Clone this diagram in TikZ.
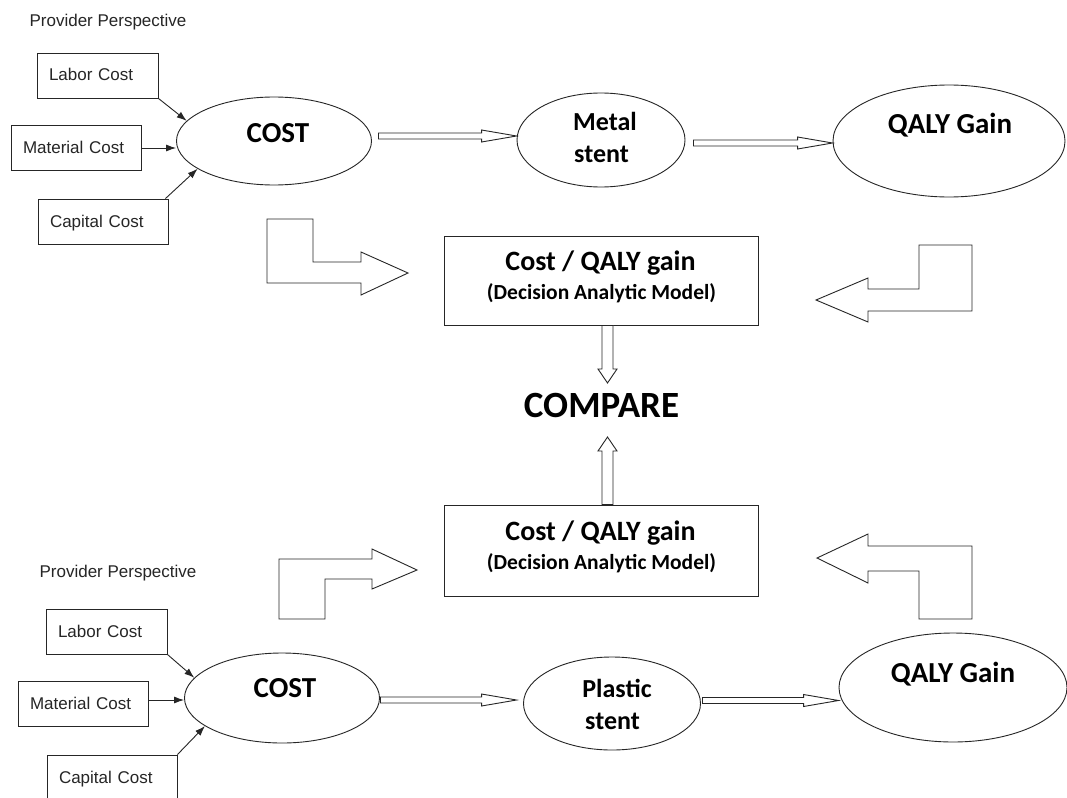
\documentclass[tikz,border=0pt]{standalone}
\usepackage{fontspec}
\setmainfont{Liberation Sans}
\newfontfamily\calib{Carlito}
\usetikzlibrary{shapes.geometric,calc,arrows.meta}

\begin{document}
\begin{tikzpicture}[x=1pt,y=-1pt,
  ln/.style={draw=black!85,line width=0.9pt},
  small/.style={text=black!85,font=\fontsize{17}{19}\selectfont},
  costbox/.style={ln,rectangle,small,inner xsep=12pt,inner ysep=0pt,
    minimum height=45pt,align=left,text height=11.5pt,text depth=0.5pt},
  oval/.style={ln,ellipse,inner sep=0pt},
  modelbox/.style={ln,rectangle,inner sep=0pt,minimum width=314pt},
  bigtxt/.style={anchor=base,inner sep=0pt,font=\calib\bfseries\fontsize{29}{31}\selectfont},
  stenttxt/.style={anchor=base,inner sep=0pt,font=\calib\bfseries\fontsize{26}{28}\selectfont},
  headtxt/.style={anchor=base,inner sep=0pt,font=\calib\bfseries\fontsize{28}{30}\selectfont},
  subtxt/.style={anchor=base,inner sep=0pt,font=\calib\bfseries\fontsize{21.5}{23}\selectfont},
  persp/.style={anchor=base,inner sep=0pt,small},
  feed/.style={ln,-{Latex[length=10pt,width=7pt]}},
  bent/.style={ln,fill=white,line join=miter},
  hblock/.style={ln,fill=white,to path={let \p1=(\tikztostart), \p2=(\tikztotarget) in
    (\x1,\y1+3pt) -- (\x2-35pt,\y1+3pt) -- (\x2-35pt,\y1+6pt) -- (\x2,\y1)
    -- (\x2-35pt,\y1-6pt) -- (\x2-35pt,\y1-3pt) -- (\x1,\y1-3pt) -- cycle}},
  downblock/.style={ln,fill=white,to path={let \p1=(\tikztostart), \p2=(\tikztotarget) in
    (\x1-5.5pt,\y1) -- (\x1-5.5pt,\y2+14pt) -- (\x1-9.5pt,\y2+14pt) -- (\x1,\y2)
    -- (\x1+9.5pt,\y2+14pt) -- (\x1+5.5pt,\y2+14pt) -- (\x1+5.5pt,\y1) -- cycle}},
  upblock/.style={ln,fill=white,to path={let \p1=(\tikztostart), \p2=(\tikztotarget) in
    (\x1-5.5pt,\y1) -- (\x1-5.5pt,\y2-14pt) -- (\x1-9.5pt,\y2-14pt) -- (\x1,\y2)
    -- (\x1+9.5pt,\y2-14pt) -- (\x1+5.5pt,\y2-14pt) -- (\x1+5.5pt,\y1) -- cycle}}
]
\useasboundingbox (0,0) rectangle (1067,797);
\clip (0,0) rectangle (1067,797);
\fill[white] (0,0) rectangle (1067,797);

% ---------- metal stent branch ----------
\node[persp] (pp1) at (108,27) {Provider Perspective};
\node[costbox,text width=97pt] (labor1) at (97.5,75.5) {Labor Cost};
\node[costbox,text width=106pt] (material1) at (76,148) {Material Cost};
\node[costbox,text width=106pt] (capital1) at (103,221.5) {Capital Cost};

\node[oval,minimum width=195pt,minimum height=88pt] (cost1) at (274,141) {};
\node[bigtxt] (cost1t) at (278,142) {COST};
\node[oval,minimum width=168pt,minimum height=94pt] (metal) at (601,140) {};
\node[stenttxt] (metalA) at (605,130) {Metal};
\node[stenttxt] (metalB) at (601.5,162) {stent};
\node[oval,minimum width=232pt,minimum height=112pt] (qaly1) at (949,141) {};
\node[bigtxt] (qaly1t) at (950,133) {QALY Gain};

\draw[feed] (labor1.south east) -- (cost1.167);
\draw[feed] (material1.east) -- (material1.east -| cost1.west);
\draw[feed] ([xshift=-3pt]capital1.north east) -- (cost1.200);

\draw[hblock] ([xshift=6.5pt,yshift=5pt]cost1.east) to (metal.west);
\draw[hblock] ([xshift=8pt,yshift=-3pt]metal.east) to (qaly1.west);

\node[modelbox,minimum height=89pt] (model1) at (601,280.5) {};
\node[headtxt] (model1a) at (600.5,270) {Cost / QALY gain};
\node[subtxt] (model1b) at (601.5,299) {(Decision Analytic Model)};

% bent block arrows feeding the upper model
\draw[bent] (267,219) -- (313,219) -- (313,262) -- (361,262) -- (361,252) -- (408,273)
  -- (361,295) -- (361,283) -- (267,283) -- cycle;
\draw[bent] (972,245) -- (919,245) -- (919,289) -- (868,289) -- (868,278) -- (816,300)
  -- (868,322) -- (868,311) -- (972,311) -- cycle;

% ---------- comparison ----------
\node[anchor=base,inner sep=0pt,font=\calib\bfseries\fontsize{37}{39}\selectfont] (compare) at (601.5,417) {COMPARE};
\coordinate (downtip) at (607.5,383);
\coordinate (uptip) at (607.5,437);
\draw[downblock] ([xshift=6.5pt]model1.south) to (downtip);

\node[modelbox,minimum height=91pt] (model2) at (601,550.5) {};
\node[headtxt] (model2a) at (600.5,540) {Cost / QALY gain};
\node[subtxt] (model2b) at (601.5,569) {(Decision Analytic Model)};
\draw[upblock] ([xshift=6.5pt]model2.north) to (uptip);

% bent block arrows feeding the lower model
\draw[bent] (279,619) -- (279,559) -- (372,559) -- (372,549) -- (417,570) -- (372,589)
  -- (372,579) -- (325,579) -- (325,619) -- cycle;
\draw[bent] (972,619) -- (972,546) -- (868,546) -- (868,534) -- (817,558) -- (868,583)
  -- (868,571) -- (919,571) -- (919,619) -- cycle;

% ---------- plastic stent branch ----------
\node[persp] (pp2) at (118,577) {Provider Perspective};
\node[costbox,text width=97pt] (labor2) at (106.5,631.5) {Labor Cost};
\node[costbox,text width=106pt] (material2) at (83,704) {Material Cost};
\node[costbox,text width=106pt,minimum height=46pt] (capital2) at (112,778) {Capital Cost};

\node[oval,minimum width=195pt,minimum height=90pt] (cost2) at (282,698) {};
\node[bigtxt] (cost2t) at (285,697) {COST};
\node[oval,minimum width=177pt,minimum height=93pt] (plastic) at (612,703.5) {};
\node[stenttxt] (plasticA) at (617,697) {Plastic};
\node[stenttxt] (plasticB) at (612.5,729) {stent};
\node[oval,minimum width=228pt,minimum height=109pt] (qaly2) at (953,687.5) {};
\node[bigtxt] (qaly2t) at (953,682) {QALY Gain};

\draw[feed] (labor2.south east) -- (cost2.167);
\draw[feed] ([yshift=4pt]material2.east) -- ([yshift=4pt]material2.east -| cost2.west);
\draw[feed] (capital2.north east) -- (cost2.200);

\draw[hblock] ([xshift=0.5pt,yshift=-2pt]cost2.east) to ([xshift=-6.5pt]plastic.west);
\draw[hblock] ([xshift=1.5pt,yshift=3pt]plastic.east) to (qaly2.west);
\end{tikzpicture}
\end{document}
